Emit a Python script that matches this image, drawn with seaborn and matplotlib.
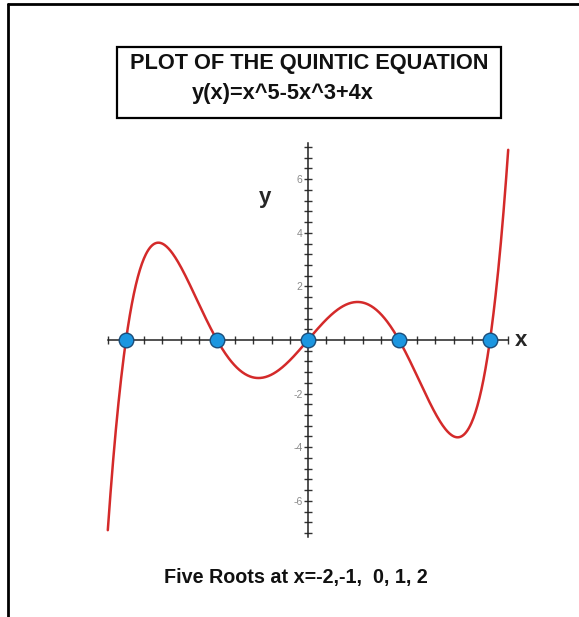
import numpy as np
import matplotlib
matplotlib.use("Agg")
import matplotlib.pyplot as plt
from matplotlib.patches import Rectangle
from matplotlib.lines import Line2D
from matplotlib.ticker import FixedLocator, FuncFormatter
import seaborn as sns

# Quintic y(x) = x^5 - 5x^3 + 4x, highest power first
coefficients = [1, 0, -5, 0, 4, 0]
roots = [-2, -1, 0, 1, 2]
x_range = [-2.2, 2.2]
y_tick_labels = [-6, -4, -2, 2, 4, 6]

sns.set_style("white")
plt.rcParams["font.family"] = ["Liberation Sans", "DejaVu Sans"]

W, H = 579, 617
fig = plt.figure(figsize=(W / 100, H / 100), dpi=100)
fig.patch.set_facecolor("white")

# one axes covering the whole canvas; origin placed at (308, 340) px
x_scale, y_scale = 91.0, 26.8
ox, oy = 308, 340
ax = fig.add_axes([0, 0, 1, 1])
ax.set_facecolor("none")
ax.set_xlim(-ox / x_scale, (W - ox) / x_scale)
ax.set_ylim(-(H - oy) / y_scale, oy / y_scale)

xs = np.linspace(x_range[0], x_range[1], 600)
ys = np.polyval(coefficients, xs)
sns.lineplot(x=xs, y=ys, ax=ax, color="#d42a2a", linewidth=1.8, sort=False, zorder=3)

root_y = np.polyval(coefficients, np.array(roots))
sns.scatterplot(x=roots, y=root_y, ax=ax, s=110, color="#1c96e0",
                edgecolor="#1b4d7a", linewidth=1.0, zorder=5)

# crossing axes through the origin
for side in ("top", "right"):
    ax.spines[side].set_visible(False)
ax.spines["left"].set_position(("data", 0))
ax.spines["bottom"].set_position(("data", 0))
ax.spines["left"].set_bounds(-7.35, 7.35)
ax.spines["bottom"].set_bounds(-2.2, 2.2)
for side in ("left", "bottom"):
    ax.spines[side].set_linewidth(1.1)
    ax.spines[side].set_color("#222222")

ax.xaxis.set_major_locator(FixedLocator(np.round(np.arange(-2.2, 2.21, 0.2), 2)))
ax.yaxis.set_major_locator(FixedLocator(np.round(np.arange(-7.2, 7.21, 0.4), 2)))
ax.xaxis.set_major_formatter(FuncFormatter(lambda v, p: ""))
ax.yaxis.set_major_formatter(
    FuncFormatter(lambda v, p: f"{int(round(v))}"
                  if any(abs(v - t) < 1e-6 for t in y_tick_labels) else ""))
ax.tick_params(axis="both", which="major", bottom=True, left=True,
               direction="inout", length=6, width=1.0,
               colors="#333333", labelsize=7.5, pad=1)
ax.tick_params(axis="y", labelcolor="#8a8a8a")

ax.set_xlabel("")
ax.set_ylabel("")

# axis names
fig.text(265 / W, 1 - 197 / H, "y", ha="center", va="center",
         fontsize=16, fontweight="bold")
fig.text(521 / W, 1 - 341 / H, "x", ha="center", va="center",
         fontsize=16, fontweight="bold")

# title box
fig.add_artist(Rectangle((117 / W, 1 - 118 / H), (501 - 117) / W, (118 - 47) / H,
                         transform=fig.transFigure, fill=False,
                         edgecolor="black", linewidth=1.6))
fig.text(130 / W, 1 - 63 / H, "PLOT OF THE QUINTIC EQUATION", ha="left",
         va="center", fontsize=15.7, fontweight="bold", color="#111111")
fig.text(192 / W, 1 - 94 / H, "y(x)=x^5-5x^3+4x", ha="left",
         va="center", fontsize=15.7, fontweight="bold", color="#111111")

fig.text(296 / W, 1 - 578 / H, "Five Roots at x=-2,-1,  0, 1, 2", ha="center",
         va="center", fontsize=14.2, fontweight="bold", color="#111111")

# outer frame (top and left edges)
fig.add_artist(Line2D([8 / W, 1], [1 - 4 / H, 1 - 4 / H], transform=fig.transFigure,
                      color="black", linewidth=2.0))
fig.add_artist(Line2D([8 / W, 8 / W], [0, 1 - 4 / H], transform=fig.transFigure,
                      color="black", linewidth=2.0))

fig.savefig("out.png", dpi=100, facecolor="white")
